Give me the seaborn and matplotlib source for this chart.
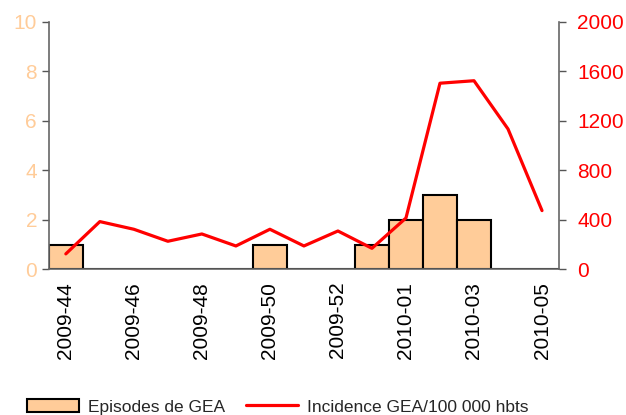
import numpy as np
import pandas as pd
import matplotlib
matplotlib.use("Agg")
import matplotlib.pyplot as plt
import seaborn as sns
from matplotlib.patches import Patch
from matplotlib.lines import Line2D

weeks = ["2009-44", "2009-45", "2009-46", "2009-47", "2009-48", "2009-49",
         "2009-50", "2009-51", "2009-52", "2009-53", "2010-01", "2010-02",
         "2010-03", "2010-04", "2010-05"]
episodes = [1, 0, 0, 0, 0, 0, 1, 0, 0, 1, 2, 3, 2, 0, 0]
incidence = [125, 386, 324, 227, 286, 189, 324, 189, 310, 170, 415, 1505, 1525, 1135, 475]

bar_color = "#FFCC99"
line_color = "#FF0000"

sns.set_theme(style="white")
plt.rcParams["font.family"] = ["Liberation Sans", "DejaVu Sans"]

df = pd.DataFrame({"Semaine": weeks, "Episodes": episodes, "Incidence": incidence})
df["pos"] = np.arange(len(df))

fig = plt.figure(figsize=(6.26, 4.15), dpi=100)
ax = fig.add_axes([0.078, 0.351, 0.815, 0.596])

sns.barplot(data=df, x="Semaine", y="Episodes", order=weeks, color=bar_color,
            width=1.0, edgecolor="black", linewidth=1.5, saturation=1, ax=ax)

ax2 = ax.twinx()
sns.lineplot(data=df, x="pos", y="Incidence", color=line_color, linewidth=2.3,
             ax=ax2, legend=False)

n = len(weeks)
ax.set_xlim(-0.5, n - 0.5)
ax.set_ylim(0, 10)
ax2.set_ylim(0, 2000)
ax.set_yticks(range(0, 11, 2))
ax2.set_yticks(range(0, 2001, 400))

ax.set_xticks(np.arange(0, n, 2))
ax.set_xticklabels([weeks[i] for i in range(0, n, 2)], rotation=90)
ax.set_xticks(np.arange(-0.5, n, 1), minor=True)
ax.tick_params(axis="x", which="major", length=0, labelsize=15, pad=9, colors="black")
ax.tick_params(axis="x", which="minor", length=5, width=1, color="#555555", direction="out")
ax.tick_params(axis="y", length=5, width=1, color="#555555", labelsize=15,
               labelcolor=bar_color, direction="out", left=True)
ax2.tick_params(axis="y", length=5, width=1, color="#555555", labelsize=15,
                labelcolor=line_color, direction="out", right=True, pad=8)

ax.set_xlabel("")
ax.set_ylabel("")
ax2.set_xlabel("")
ax2.set_ylabel("")

for a in (ax, ax2):
    a.spines["top"].set_visible(False)
    for s in ("left", "right", "bottom"):
        a.spines[s].set_color("#666666")
        a.spines[s].set_linewidth(1.2)
ax.spines["right"].set_visible(False)
ax2.spines["left"].set_visible(False)
ax2.spines["bottom"].set_visible(False)
ax2.set_xlim(-0.5, n - 0.5)

handles = [Patch(facecolor=bar_color, edgecolor="black", linewidth=1.5),
           Line2D([0], [0], color=line_color, linewidth=2.3)]
fig.legend(handles, ["Episodes de GEA", "Incidence GEA/100 000 hbts"],
           loc="lower left", bbox_to_anchor=(0.035, -0.012), ncol=2, frameon=False,
           fontsize=12.5, handlelength=3.0, handleheight=0.8, columnspacing=1.2,
           handletextpad=0.5, borderaxespad=0.1, borderpad=0.2)

fig.savefig("out.png", dpi=100)
